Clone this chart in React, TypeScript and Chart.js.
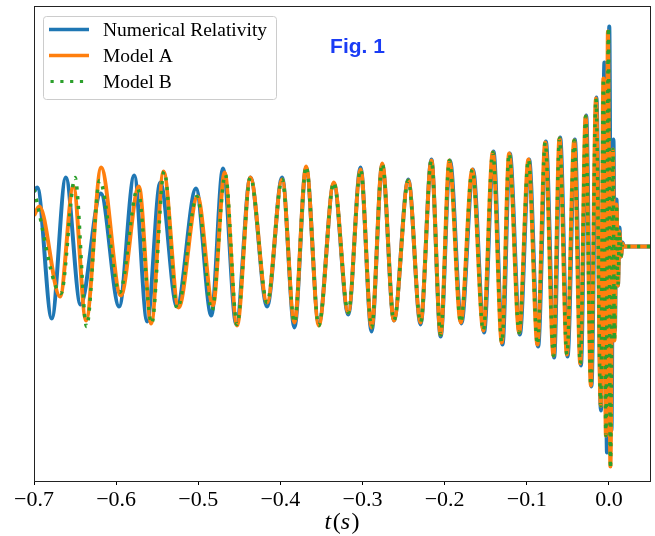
import React, { useEffect, useRef } from 'react';
import { Chart, registerables } from 'chart.js';

Chart.register(...registerables);

// x-axis ticks (seconds)
const xTicks = [-0.7, -0.6, -0.5, -0.4, -0.3, -0.2, -0.1, 0.0];
const seriesLabels = ['Numerical Relativity', 'Model A', 'Model B'];
const figTitle = 'Fig. 1';

// Numerical Relativity: successive extrema of the waveform (time s, strain arb.)
const nrTime = [-0.7, -0.696, -0.6784, -0.6613, -0.6433, -0.6187, -0.5963, -0.578, -0.5622, -0.5463,
  -0.526, -0.5028, -0.4841, -0.4699, -0.4537, -0.4366, -0.4162, -0.3979, -0.3829, -0.3687,
  -0.3533, -0.335, -0.3174, -0.3024, -0.289, -0.276, -0.2618, -0.2443, -0.2293, -0.2162,
  -0.2049, -0.1935, -0.1796, -0.1655, -0.1521, -0.1406, -0.1296, -0.1207, -0.1085, -0.0972,
  -0.0862, -0.0768, -0.0667, -0.0594, -0.0504, -0.0415, -0.0341, -0.0277, -0.0213, -0.0152,
  -0.0098, -0.0055, -0.0024, 0.0004, 0.0031, 0.0055, 0.0073, 0.0092, 0.011, 0.0128,
  0.0146, 0.0165, 0.0183, 0.05];
const nrStrain = [0.55, 0.59, -0.72, 0.69, -0.58, 0.53, -0.60, 0.71, -0.75, 0.64,
  -0.60, 0.58, -0.69, 0.78, -0.78, 0.69, -0.60, 0.69, -0.81, 0.79,
  -0.77, 0.63, -0.68, 0.79, -0.85, 0.82, -0.74, 0.67, -0.78, 0.87,
  -0.90, 0.86, -0.77, 0.77, -0.86, 0.95, -0.98, 0.93, -0.88, 0.87,
  -1.00, 1.05, -1.11, 1.09, -1.10, 1.07, -1.19, 1.31, -1.40, 1.49,
  -1.64, 1.84, -2.06, 2.20, -1.84, 1.07, -0.84, 0.47, -0.39, 0.19,
  -0.10, 0.04, 0, 0];

// Model A
const modelATime = [-0.7, -0.6935, -0.6683, -0.6521, -0.6366, -0.6183, -0.5943, -0.5723, -0.5573, -0.5423,
  -0.524, -0.5009, -0.4821, -0.4679, -0.4528, -0.4366, -0.4162, -0.3979, -0.3829, -0.3687,
  -0.3533, -0.335, -0.3174, -0.3024, -0.289, -0.276, -0.2618, -0.2443, -0.2293, -0.2162,
  -0.2049, -0.1943, -0.1804, -0.1663, -0.1529, -0.1414, -0.1304, -0.1215, -0.1093, -0.098,
  -0.087, -0.0776, -0.0675, -0.0602, -0.0512, -0.0423, -0.0349, -0.0284, -0.022, -0.0158,
  -0.01, -0.0067, -0.0037, -0.0012, 0.0018, 0.0049, 0.0067, 0.0092, 0.011, 0.0128,
  0.0146, 0.0165, 0.0183, 0.05];
const modelAStrain = [0.31, 0.40, -0.50, 0.60, -0.74, 0.79, -0.49, 0.60, -0.77, 0.75,
  -0.61, 0.50, -0.59, 0.74, -0.79, 0.69, -0.56, 0.67, -0.76, 0.80,
  -0.79, 0.64, -0.66, 0.77, -0.81, 0.83, -0.74, 0.66, -0.76, 0.86,
  -0.88, 0.86, -0.76, 0.77, -0.84, 0.94, -0.96, 0.93, -0.86, 0.87,
  -0.98, 1.04, -1.09, 1.08, -1.08, 1.06, -1.17, 1.30, -1.39, 1.48,
  -1.59, 1.68, -1.89, 2.15, -2.20, 0.97, -0.94, 0.42, -0.39, 0.15,
  -0.10, 0.03, 0, 0];

// Model B
const modelBTime = [-0.7, -0.6671, -0.65, -0.636, -0.6201, -0.5957, -0.5738, -0.5567, -0.5415, -0.5256,
  -0.5016, -0.4833, -0.4671, -0.4528, -0.4366, -0.4162, -0.3979, -0.3829, -0.3687,
  -0.3533, -0.335, -0.3174, -0.3024, -0.289, -0.276, -0.2618, -0.2443, -0.2293, -0.2162,
  -0.2049, -0.1943, -0.1804, -0.1663, -0.1529, -0.1414, -0.1304, -0.1215, -0.1093, -0.098,
  -0.087, -0.0776, -0.0675, -0.0602, -0.0512, -0.0423, -0.0349, -0.0284, -0.022, -0.0158,
  -0.01, -0.0067, -0.0037, -0.0006, 0.0018, 0.0049, 0.0067, 0.0092, 0.011, 0.0128,
  0.0146, 0.0165, 0.0183, 0.05];
const modelBStrain = [0.57, -0.47, 0.69, -0.80, 0.66, -0.46, 0.58, -0.77, 0.75, -0.62,
  0.50, -0.64, 0.72, -0.78, 0.69, -0.56, 0.67, -0.76, 0.80,
  -0.79, 0.64, -0.66, 0.77, -0.81, 0.83, -0.74, 0.66, -0.76, 0.86,
  -0.88, 0.86, -0.76, 0.77, -0.84, 0.94, -0.96, 0.93, -0.86, 0.87,
  -0.98, 1.04, -1.09, 1.08, -1.08, 1.06, -1.17, 1.30, -1.39, 1.48,
  -1.59, 1.68, -1.89, 2.19, -2.22, 0.97, -0.94, 0.42, -0.39, 0.15,
  -0.10, 0.03, 0, 0];

const X_MIN = -0.7;
const X_MAX = 0.05;
const Y_MIN = -2.345;
const Y_MAX = 2.405;

const COLORS = ['#1f77b4', '#ff7f0e', '#2ca02c'];
const WIDTHS = [4, 4, 3.5];
const DOTS = [3.2, 6.6];

const zip = (xs: number[], ys: number[]) => xs.map((x, i) => ({ x, y: ys[i] }));

const fmtTick = (value: any) => {
  const v = Number(value);
  const s = Math.abs(v).toFixed(1);
  return v < -1e-9 ? '\u2212' + s : s;
};

const overlayPlugin = {
  id: 'overlay',
  afterDraw(chart: any) {
    const { ctx, chartArea: a } = chart;
    ctx.save();
    // frame (spines)
    ctx.strokeStyle = '#222';
    ctx.lineWidth = 1;
    ctx.strokeRect(a.left + 0.5, a.top + 0.5, a.right - a.left, a.bottom - a.top);

    // legend
    const lx = a.left + 9.5, ly = a.top + 10.5, lw = 233, lh = 83;
    ctx.beginPath();
    if ((ctx as any).roundRect) (ctx as any).roundRect(lx, ly, lw, lh, 3);
    else ctx.rect(lx, ly, lw, lh);
    ctx.fillStyle = 'rgba(255,255,255,0.8)';
    ctx.fill();
    ctx.strokeStyle = '#cccccc';
    ctx.lineWidth = 1;
    ctx.stroke();
    const rows = [a.top + 23.5, a.top + 49.5, a.top + 75.5];
    seriesLabels.forEach((lab, i) => {
      ctx.beginPath();
      ctx.strokeStyle = COLORS[i];
      ctx.lineWidth = i === 2 ? 3 : WIDTHS[i] - 0.5;
      ctx.lineCap = 'butt';
      ctx.setLineDash(i === 2 ? DOTS : []);
      ctx.moveTo(a.left + (i === 2 ? 16.5 : 15), rows[i]);
      ctx.lineTo(a.left + 55, rows[i]);
      ctx.stroke();
      ctx.setLineDash([]);
      ctx.fillStyle = '#000';
      ctx.font = '19.5px "Liberation Serif"';
      ctx.textBaseline = 'middle';
      ctx.textAlign = 'left';
      ctx.fillText(lab, a.left + 69, rows[i] + 1);
    });

    // figure label
    ctx.fillStyle = '#1a3cf5';
    ctx.font = 'bold 21px "Liberation Sans"';
    ctx.textAlign = 'center';
    ctx.textBaseline = 'middle';
    ctx.fillText(figTitle, 357.5, a.top + 41);

    // x-axis title t(s) with italic variables
    const parts: [string, string][] = [['t', 'italic '], ['(', ''], ['s', 'italic '], [')', '']];
    ctx.textAlign = 'left';
    ctx.fillStyle = '#000';
    let total = 0;
    const widths = parts.map(([s, st]) => {
      ctx.font = st + '24px "Liberation Serif"';
      const w = ctx.measureText(s).width + (st ? 1.5 : 0);
      total += w;
      return w;
    });
    let x = (a.left + a.right) / 2 - total / 2;
    parts.forEach(([s, st], i) => {
      ctx.font = st + '24px "Liberation Serif"';
      ctx.fillText(s, x, a.bottom + 42);
      x += widths[i];
    });
    ctx.restore();
  },
};

export default function App() {
  const ref = useRef<HTMLCanvasElement | null>(null);
  useEffect(() => {
    if (!ref.current) return;
    const chart = new Chart(ref.current, {
      type: 'line',
      data: {
        datasets: [
          {
            label: seriesLabels[0], data: zip(nrTime, nrStrain), borderColor: COLORS[0],
            borderWidth: WIDTHS[0], cubicInterpolationMode: 'monotone', pointRadius: 0, fill: false, order: 3,
          },
          {
            label: seriesLabels[1], data: zip(modelATime, modelAStrain), borderColor: COLORS[1],
            borderWidth: WIDTHS[1], cubicInterpolationMode: 'monotone', pointRadius: 0, fill: false, order: 2,
          },
          {
            label: seriesLabels[2], data: zip(modelBTime, modelBStrain), borderColor: COLORS[2],
            borderWidth: WIDTHS[2], borderDash: DOTS, borderCapStyle: 'butt',
            cubicInterpolationMode: 'monotone', pointRadius: 0, fill: false, order: 1,
          },
        ],
      },
      options: {
        animation: false,
        responsive: true,
        maintainAspectRatio: false,
        layout: { padding: { left: 34, right: 5, top: 6, bottom: 0 } },
        plugins: { legend: { display: false }, tooltip: { enabled: false }, title: { display: false } },
        elements: { point: { radius: 0 } },
        scales: {
          x: {
            type: 'linear',
            min: X_MIN,
            max: X_MAX,
            afterBuildTicks: (s: any) => { s.ticks = xTicks.map((v) => ({ value: v })); },
            afterFit: (s: any) => { s.height = 55; },
            grid: { display: true, drawOnChartArea: false, drawTicks: true, tickLength: 4, color: '#000', lineWidth: 1 },
            border: { display: false },
            ticks: {
              color: '#000', font: { family: '"Liberation Serif"', size: 22 }, padding: 2,
              maxRotation: 0, autoSkip: false, callback: fmtTick,
            },
          },
          y: { display: false, min: Y_MIN, max: Y_MAX },
        },
      } as any,
      plugins: [overlayPlugin],
    });
    return () => chart.destroy();
  }, []);
  return (
    <div style={{ position: 'fixed', left: 0, top: 0, width: 655, height: 536, background: '#fff' }}>
      <canvas ref={ref} />
    </div>
  );
}
